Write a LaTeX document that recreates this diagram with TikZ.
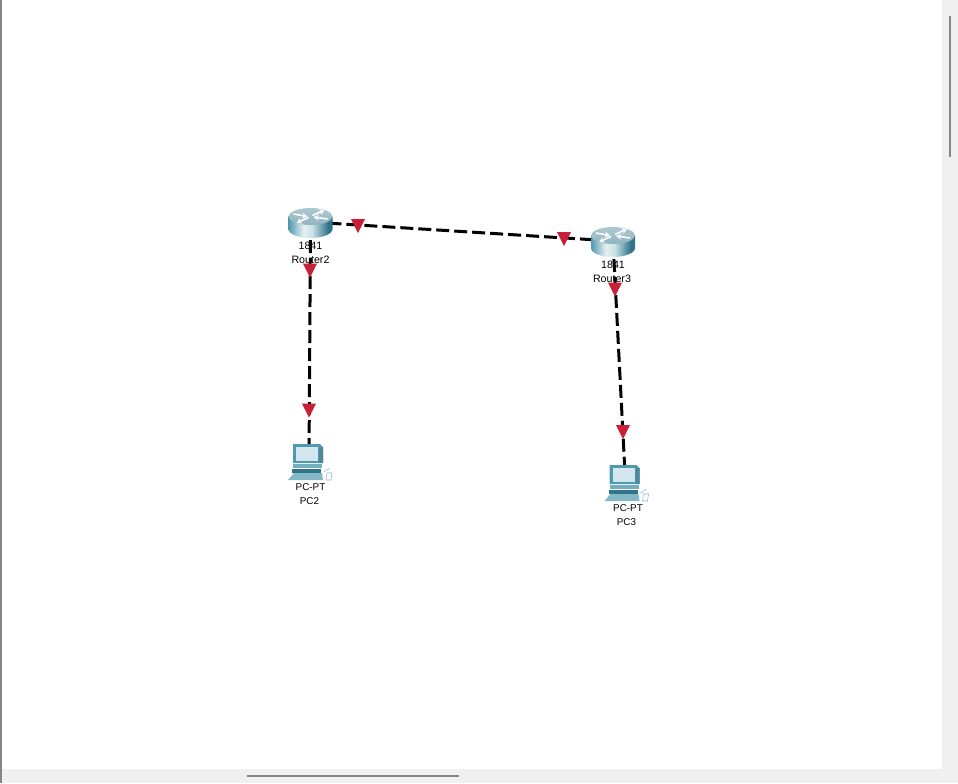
\documentclass[tikz,border=0pt]{standalone}
\usepackage{fontspec}
\setmainfont{Liberation Sans}
\usetikzlibrary{shapes.geometric,arrows.meta}
\definecolor{linkred}{HTML}{C9203A}
\definecolor{panelgrey}{HTML}{F0F0F0}
\definecolor{bargrey}{HTML}{868686}
\definecolor{pcteal}{HTML}{4F9AAE}
\definecolor{pcdark}{HTML}{2F7488}
\definecolor{pclight}{HTML}{D3E6EE}
\definecolor{routertop}{HTML}{9ABBC6}
\pgfdeclarehorizontalshading{routerbody}{100bp}{color(0bp)=(pcteal);color(25bp)=(pcteal);color(42bp)=(white!85!pcteal);color(52bp)=(white!70!pcteal);color(70bp)=(pcdark);color(100bp)=(pcdark)}
\tikzset{
	link/.style={draw=black,line width=3pt*0.75,dash pattern=on 13pt*0.75 off 5pt*0.75},
	marker/.style={isosceles triangle,isosceles triangle stretches,shape border rotate=270,fill=linkred,minimum width=10.5pt,minimum height=10.5pt,inner sep=0pt},
	tag/.style={inner sep=0pt,font=\fontsize{8}{9}\selectfont},
	pctag/.style={inner sep=0pt,font=\fontsize{7.4}{9}\selectfont},
	flow/.style={draw=white,line width=1.2pt,-{Stealth[length=4pt,width=4.5pt]}},
	routericon/.pic={
		\shade[shading=routerbody] (-22,-5.5) -- (-22,7) arc [start angle=180, end angle=0, x radius=22, y radius=9] -- (22,-5.5) -- cycle;
		\shade[top color=routertop!80!white,bottom color=routertop!90!pcdark] (0,-5.5) ellipse [x radius=22, y radius=8.5];
		\draw[flow] (-17,-8) -- (-3,-5.5);
		\draw[flow] (17,-3) -- (3,-5);
		\draw[flow] (2,-6.5) -- (14,-12);
		\draw[flow] (-2,-4.5) -- (-14,1);
	},
	pcicon/.pic={
		\fill[pcteal] (-16,-18) -- (11,-18) -- (14,-15) -- (14,1) -- (-16,1) -- cycle;
		\fill[pclight] (-13,-15) rectangle (9,-1);
		\fill[pcdark!85] (10,-14) -- (14,-15) -- (14,1) -- (10,1) -- cycle;
		\fill[pcteal!80] (-16,2) rectangle (13,6);
		\fill[pcdark] (-17,7) rectangle (12,11);
		\fill[pcteal!70] (-21,18) -- (-15,11) -- (13,11) -- (14,18) -- cycle;
		\fill[white,draw=pcteal!70] (18,11) -- (23,11) -- (22,18) -- (17,18) -- cycle;
		\draw[pcteal!70] (15,10) -- (21,6);
	}
}
\begin{document}
\begin{tikzpicture}[x=0.75pt,y=-0.75pt]
	\useasboundingbox (0,0) rectangle (958,783);
	\fill[white] (0,0) rectangle (958,783);
	\fill[panelgrey] (942,0) rectangle (958,783);
	\fill[panelgrey] (0,769) rectangle (958,783);
	\fill[bargrey] (0,0) rectangle (2,783);
	\fill[bargrey] (949,16) rectangle (951,157);
	\fill[bargrey] (247,775) rectangle (459,777);
	\coordinate (router2) at (310.5,222);
	\coordinate (router3) at (613,241);
	\coordinate (pc2) at (309,462);
	\coordinate (pc3) at (625.5,483);
	\draw[link] (router2) -- (router3);
	\draw[link] (router2) -- (pc2);
	\draw[link] (router3) -- (pc3);
	\pic at (router2) {routericon};
	\pic at (router3) {routericon};
	\pic at (pc2) {pcicon};
	\pic at (pc3) {pcicon};
	\node[tag] (model2) at (310.5,246) {1841};
	\node[tag] (name2) at (310.5,260) {Router2};
	\node[tag] (model3) at (613,265) {1841};
	\node[tag] (name3) at (612,279) {Router3};
	\node[pctag] (type2) at (310.5,487.5) {PC-PT};
	\node[pctag] (pcname2) at (309.5,501.5) {PC2};
	\node[pctag] (type3) at (628,508) {PC-PT};
	\node[pctag] (pcname3) at (626.5,522) {PC3};
	\node[marker] (m1) at (358,223.5) {};
	\node[marker] (m2) at (564,236.5) {};
	\node[marker] (m3) at (310,268) {};
	\node[marker] (m4) at (309,408) {};
	\node[marker] (m5) at (615,287) {};
	\node[marker] (m6) at (623,429.5) {};
\end{tikzpicture}
\end{document}
